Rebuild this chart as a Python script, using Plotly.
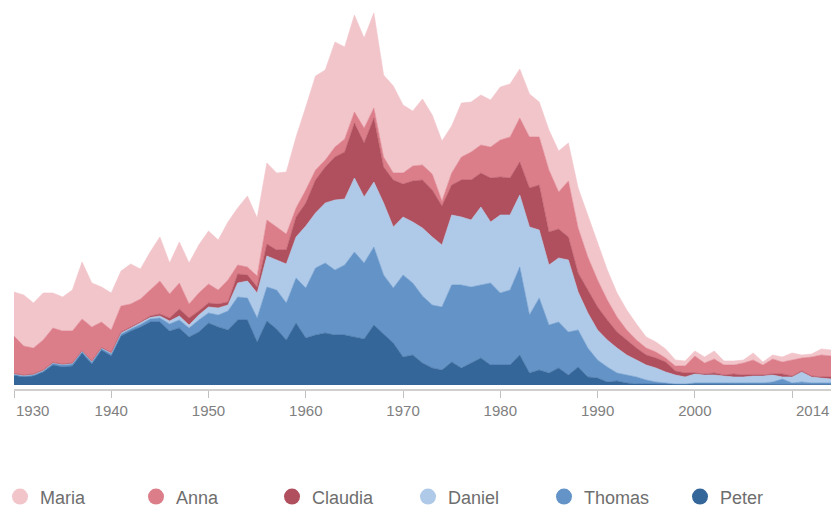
import plotly.graph_objects as go

years = list(range(1930, 2015))

peter = [9.5, 8, 9, 13, 20, 18, 19, 32, 21, 35, 29, 49, 54, 58, 63, 63, 54, 57, 48, 53,
         62, 58, 55, 65, 65, 43, 64, 56, 45, 62, 47, 50, 52, 50, 50, 48, 46, 60, 51, 42,
         28, 30, 22, 17, 15, 23, 17, 22, 27, 20, 20, 20, 30, 12, 15, 12, 17, 10, 18, 8,
         7, 3, 4, 2, 1, 1, 0.5, 0.5, 0.5, 0.5, 0.5, 0.5, 1, 0.5, 0.5, 0.5, 0.5, 0.5, 0.5, 1,
         0.5, 0.5, 0.5, 0.5, 0.5]
thomas = [1, 1, 1, 1, 1.5, 2, 2, 1.5, 2, 1.5, 2, 2, 2, 2.5, 3, 4, 7, 8, 9, 12,
          10, 12, 19, 23, 22, 24, 34, 39, 37, 45, 50, 67, 70, 65, 70, 85, 76, 78, 59, 55,
          82, 72, 67, 63, 63, 77, 83, 76, 73, 82, 72, 75, 88, 58, 72, 48, 46, 43, 37, 29,
          18, 15, 8, 8, 7, 4, 2.5, 1.5, 0.5, 0.5, 1.5, 1.5, 1, 1.5, 1.5, 1.5, 1.5, 1.5, 2.5, 5,
          1.5, 2.5, 1.5, 1.5, 1.5]
daniel = [0.5, 0.5, 0.5, 0.5, 0.5, 0.5, 0.5, 0.5, 0.5, 0.5, 1, 1, 1, 1.5, 1.5, 2, 3, 4, 3, 5,
          6, 7, 6, 14, 17, 25, 31, 30, 39, 41, 62, 55, 60, 70, 66, 74, 66, 65, 72, 61,
          58, 61, 68, 68, 62, 70, 68, 67, 78, 61, 78, 75, 72, 88, 68, 60, 64, 72, 38, 35,
          30, 27, 25, 20, 17, 15, 14, 11, 9, 7, 9, 8, 8, 7, 6, 6, 7, 7, 7, 2,
          6, 10, 6, 5, 4]
claudia = [0.5, 0.5, 0.5, 0.5, 0.5, 0.5, 0.5, 0.5, 0.5, 0.5, 0.5, 1, 1, 1, 1.5, 2, 3, 7, 7, 4,
           4, 4, 3, 9, 6, 6, 12, 10, 14, 20, 23, 33, 36, 43, 47, 55, 54, 64, 36, 47,
           33, 41, 48, 47, 39, 30, 37, 40, 34, 44, 38, 37, 33, 39, 45, 33, 29, 23, 19, 23,
           23, 20, 16, 15, 12, 10, 10, 10, 4, 4, 1, 1, 2, 1, 3, 2, 1, 1, 1, 3,
           1, 1, 1, 1, 2]
anna = [37.5, 29, 26, 30, 34.5, 33, 32, 31.5, 34, 25.5, 22.5, 26, 23, 23, 26, 33, 24, 26, 14, 18,
        19, 14, 22, 9, 8, 11, 24, 23, 16, 9, 13, 10, 7, 10, 13, 11, 15, 10, 10, 7,
        11, 15, 15, 16, 5, 12, 23, 28, 28, 31, 37, 41, 44, 51, 48, 62, 37, 56, 45, 33,
        27, 20, 15, 10, 8, 7, 6, 4, 5, 7, 17, 11, 14, 10, 9, 12, 15, 10, 15, 12,
        16, 13, 19, 22, 21]
maria = [44, 51, 45, 47, 35, 34, 41, 57, 44, 35, 37, 35, 40, 30, 38, 44, 31, 41, 41, 48,
         53, 50, 58, 57, 71, 58, 57, 54, 62, 71, 83, 94, 90, 105, 92, 97, 90, 95, 82, 87,
         68, 55, 66, 59, 60, 47, 54, 50, 50, 47, 53, 53, 49, 43, 35, 40, 41, 38, 40, 42,
         37, 30, 24, 20, 16, 11, 10, 9, 6, 5, 5, 6, 8, 4, 4, 3, 7, 3, 4, 5,
         7, 3, 3, 6, 6]

names = ["Peter", "Thomas", "Daniel", "Claudia", "Anna", "Maria"]
series = [peter, thomas, daniel, claudia, anna, maria]
colors = {
    "Maria": "#f2c5cb",
    "Anna": "#dc7d8a",
    "Claudia": "#b0505e",
    "Daniel": "#afc9e8",
    "Thomas": "#6393c7",
    "Peter": "#35669a",
}

tick_vals = [1930, 1940, 1950, 1960, 1970, 1980, 1990, 2000, 2010]
tick_text = ["", "1940", "1950", "1960", "1970", "1980", "1990", "2000", ""]

fig = go.Figure()
for name, vals in zip(names, series):
    fig.add_trace(go.Scatter(
        x=years, y=vals, name=name, stackgroup="one", mode="lines",
        line=dict(width=0.6, color=colors[name]), fillcolor=colors[name],
        showlegend=False, hoverinfo="x+y+name"))

for name in ["Maria", "Anna", "Claudia", "Daniel", "Thomas", "Peter"]:
    fig.add_trace(go.Scatter(
        x=[None], y=[None], name=name, mode="markers",
        marker=dict(size=16, color=colors[name], symbol="circle"),
        showlegend=True))

font_fam = "Arial, 'Liberation Sans', sans-serif"
fig.update_layout(
    width=835, height=507,
    margin=dict(l=14, r=4, t=4, b=118),
    paper_bgcolor="white", plot_bgcolor="white",
    font=dict(family=font_fam, color="#777777"),
    xaxis=dict(range=[1930, 2014], tickvals=tick_vals, ticktext=tick_text,
               showgrid=False, zeroline=False, showline=True, linecolor="#d0d0d0",
               linewidth=2, ticks="outside", ticklen=7, tickcolor="#c0c0c0",
               tickwidth=1, tickfont=dict(size=15, color="#808080")),
    yaxis=dict(range=[-4, 381], visible=False, showgrid=False, zeroline=False),
    legend=dict(orientation="h", xref="container", yref="container",
                x=0, y=0.02, xanchor="left", yanchor="middle",
                font=dict(size=18, color="#6e6e6e"),
                entrywidth=91, entrywidthmode="pixels", traceorder="normal"),
    annotations=[
        dict(x=1930, y=0, xref="x", yref="paper", text="1930", showarrow=False,
             xanchor="left", yanchor="top", yshift=-11,
             font=dict(size=15, color="#808080")),
        dict(x=2014, y=0, xref="x", yref="paper", text="2014", showarrow=False,
             xanchor="right", yanchor="top", yshift=-11,
             font=dict(size=15, color="#808080")),
    ],
)

fig.write_html("out.html", config={"displayModeBar": False},
               post_script="document.body.style.margin='0';")
